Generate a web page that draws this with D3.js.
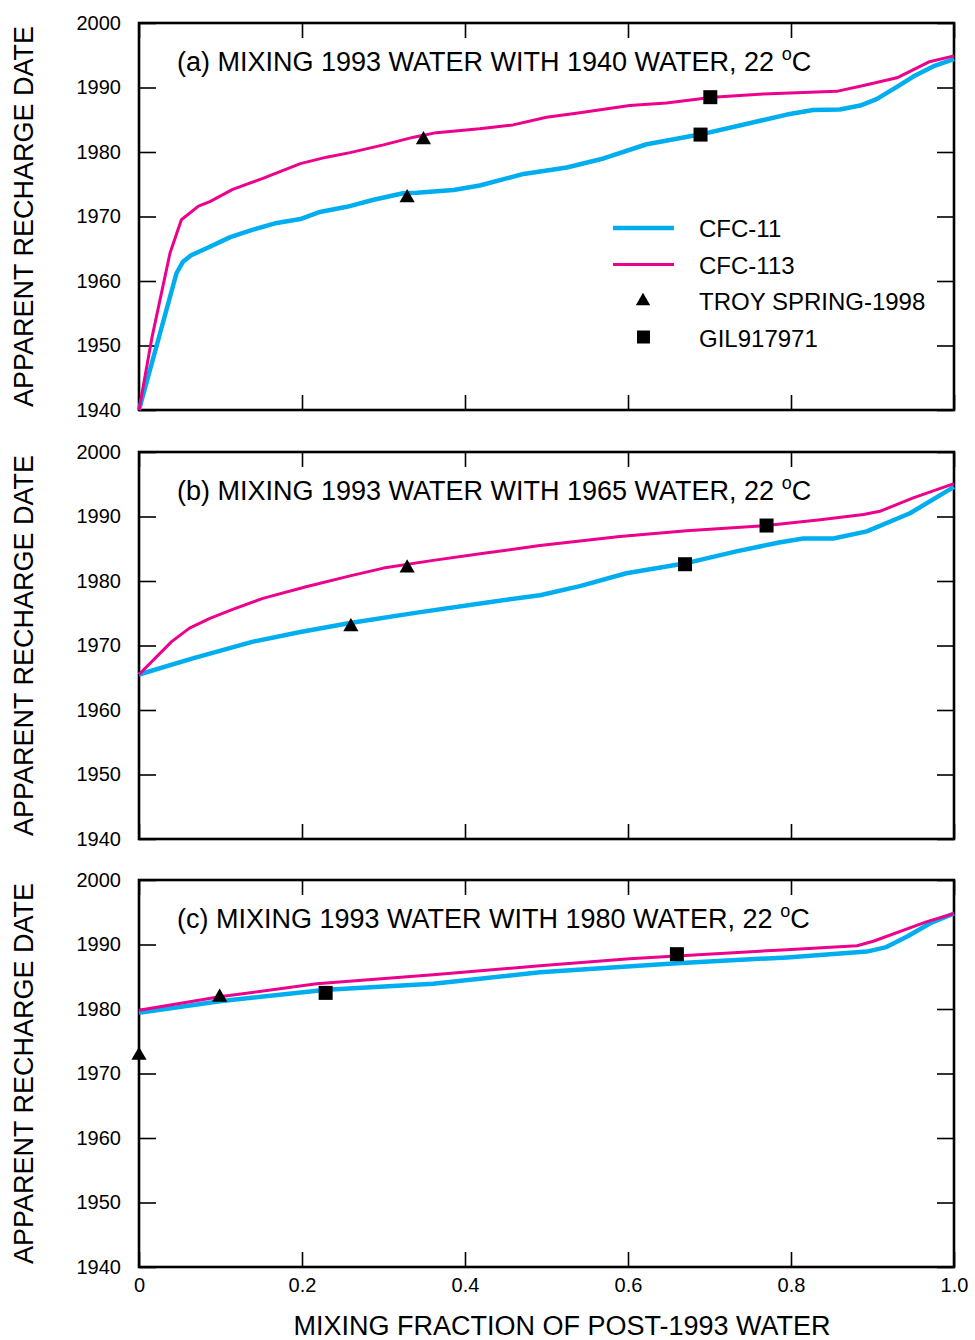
<!DOCTYPE html>
<html>
<head>
<meta charset="utf-8">
<script src="https://cdn.jsdelivr.net/npm/d3@7"></script>
<style>
  body { margin: 0; background: #fff; }
  svg text { font-family: "Liberation Sans", Arial, Helvetica, sans-serif; fill: #000; }
</style>
</head>
<body>
<svg id="chart" width="975" height="1340"></svg>
<script>
// ---- data: [mixing fraction, apparent recharge date] ----
const cfc11A = [[0,1940],[0.046,1961.2],[0.054,1963.0],[0.064,1964.0],[0.087,1965.3],[0.112,1966.8],
  [0.138,1967.9],[0.169,1969.0],[0.198,1969.6],[0.222,1970.7],[0.255,1971.5],[0.288,1972.6],
  [0.324,1973.6],[0.341,1973.7],[0.386,1974.1],[0.418,1974.8],[0.472,1976.6],[0.525,1977.6],
  [0.570,1979.0],[0.623,1981.2],[0.688,1982.7],[0.737,1984.1],[0.795,1985.8],[0.827,1986.5],
  [0.860,1986.6],[0.885,1987.2],[0.905,1988.2],[0.930,1990.1],[0.950,1991.7],[0.975,1993.3],[1.0,1994.4]];
const cfc113A = [[0,1940],[0.016,1951.3],[0.038,1964.3],[0.052,1969.5],[0.073,1971.6],[0.087,1972.3],
  [0.115,1974.2],[0.152,1975.9],[0.198,1978.2],[0.230,1979.2],[0.259,1979.9],[0.300,1981.1],
  [0.337,1982.3],[0.365,1983.0],[0.418,1983.6],[0.459,1984.2],[0.500,1985.4],[0.541,1986.1],
  [0.602,1987.2],[0.647,1987.6],[0.704,1988.5],[0.766,1989.0],[0.807,1989.2],[0.856,1989.4],
  [0.889,1990.3],[0.930,1991.5],[0.970,1994.0],[1.0,1994.9]];
const cfc11B = [[0,1965.5],[0.066,1968.0],[0.140,1970.6],[0.198,1972.1],[0.259,1973.5],[0.341,1975.1],
  [0.423,1976.6],[0.492,1977.8],[0.541,1979.2],[0.598,1981.2],[0.669,1982.7],[0.733,1984.6],
  [0.787,1986.0],[0.815,1986.6],[0.852,1986.6],[0.893,1987.7],[0.946,1990.5],[1.0,1994.6]];
const cfc113B = [[0,1965.5],[0.040,1970.6],[0.062,1972.7],[0.087,1974.2],[0.115,1975.6],[0.152,1977.3],
  [0.205,1979.1],[0.259,1980.8],[0.300,1982.0],[0.361,1983.2],[0.423,1984.3],[0.492,1985.5],
  [0.590,1986.9],[0.672,1987.8],[0.770,1988.6],[0.836,1989.5],[0.889,1990.3],[0.909,1990.8],
  [0.950,1992.9],[1.0,1995.1]];
const cfc11C = [[0,1979.4],[0.099,1981.2],[0.230,1983.0],[0.361,1983.9],[0.492,1985.7],[0.660,1987.1],
  [0.795,1988.0],[0.893,1988.9],[0.917,1989.6],[0.942,1991.2],[0.971,1993.3],[1.0,1994.8]];
const cfc113C = [[0,1979.8],[0.099,1981.9],[0.218,1983.9],[0.361,1985.3],[0.492,1986.7],[0.602,1987.8],
  [0.660,1988.2],[0.795,1989.2],[0.881,1989.8],[0.901,1990.5],[0.966,1993.5],[1.0,1994.8]];

// sample points
const troyA = [[0.329,1972.9],[0.349,1981.9]];
const gilA  = [[0.689,1982.7],[0.701,1988.5]];
const troyB = [[0.260,1972.9],[0.329,1982.0]];
const gilB  = [[0.670,1982.6],[0.770,1988.6]];
const troyC = [[0,1972.8],[0.099,1981.8]];
const gilC  = [[0.229,1982.5],[0.660,1988.5]];

const panelLabels = ["(a) MIXING 1993 WATER WITH 1940 WATER, 22 ",
                     "(b) MIXING 1993 WATER WITH 1965 WATER, 22 ",
                     "(c) MIXING 1993 WATER WITH 1980 WATER, 22 "];
const yTicks = [1940, 1950, 1960, 1970, 1980, 1990, 2000];
const xTicks = [0, 0.2, 0.4, 0.6, 0.8, 1.0];
const legendNames = ["CFC-11", "CFC-113", "TROY SPRING-1998", "GIL917971"];

const panels = [
  { label: panelLabels[0], cfc11: cfc11A, cfc113: cfc113A, troy: troyA, gil: gilA },
  { label: panelLabels[1], cfc11: cfc11B, cfc113: cfc113B, troy: troyB, gil: gilB },
  { label: panelLabels[2], cfc11: cfc11C, cfc113: cfc113C, troy: troyC, gil: gilC }
];

// ---- layout ----
const left = 139, plotW = 815, plotH = 387;
const tops = [23, 452, 880];
const blue = "#00aeef", magenta = "#ec008c";

const svg = d3.select("#chart");
const x = d3.scaleLinear().domain([0, 1]).range([0, plotW]);

panels.forEach((p, i) => {
  const y = d3.scaleLinear().domain([1940, 2000]).range([plotH, 0]);
  const g = svg.append("g").attr("transform", `translate(${left},${tops[i]})`);

  // axes with inward ticks
  const yLeft = g.append("g")
    .call(d3.axisLeft(y).tickValues(yTicks).tickSize(-17).tickSizeOuter(0).tickPadding(18)
      .tickFormat(d3.format("d")));
  yLeft.selectAll("text").style("font-size", "20px");
  g.append("g").attr("transform", `translate(${plotW},0)`)
    .call(d3.axisRight(y).tickValues(yTicks).tickSize(-17).tickSizeOuter(0).tickFormat(""));
  g.append("g")
    .call(d3.axisTop(x).tickValues(xTicks).tickSize(-15).tickSizeOuter(0).tickFormat(""));
  const xb = g.append("g").attr("transform", `translate(0,${plotH})`)
    .call(d3.axisBottom(x).tickValues(xTicks).tickSize(-15).tickSizeOuter(0).tickPadding(11)
      .tickFormat(i === 2 ? (d => d === 0 ? "0" : d3.format(".1f")(d)) : ""));
  xb.selectAll("text").style("font-size", "20px");
  g.selectAll(".domain").remove();
  g.selectAll(".tick line").attr("stroke", "#000").attr("stroke-width", 1.6);

  // frame
  g.append("rect").attr("width", plotW).attr("height", plotH)
    .attr("fill", "none").attr("stroke", "#000").attr("stroke-width", 2.6);

  // curves
  const line = d3.line().x(d => x(d[0])).y(d => y(d[1]));
  g.append("path").datum(p.cfc11).attr("d", line)
    .attr("fill", "none").attr("stroke", blue).attr("stroke-width", 4.5).attr("stroke-linejoin", "round");
  g.append("path").datum(p.cfc113).attr("d", line)
    .attr("fill", "none").attr("stroke", magenta).attr("stroke-width", 3).attr("stroke-linejoin", "round");

  // markers
  g.selectAll(".troy").data(p.troy).enter().append("path")
    .attr("d", d3.symbol(d3.symbolTriangle, 100))
    .attr("transform", d => `translate(${x(d[0])},${y(d[1])})`)
    .attr("fill", "#000");
  g.selectAll(".gil").data(p.gil).enter().append("rect")
    .attr("x", d => x(d[0]) - 7).attr("y", d => y(d[1]) - 7)
    .attr("width", 14).attr("height", 14).attr("fill", "#000");

  // panel title with raised degree sign
  const t = g.append("text").attr("x", 38).attr("y", 48).style("font-size", "27px");
  t.append("tspan").text(p.label);
  t.append("tspan").attr("dy", -11).style("font-size", "18px").text("o");
  t.append("tspan").attr("dy", 11).text("C");

  // y-axis title
  svg.append("text")
    .attr("transform", `translate(33,${tops[i] + plotH / 2}) rotate(-90)`)
    .attr("text-anchor", "middle").style("font-size", "27px")
    .text("APPARENT RECHARGE DATE");

  // legend (panel a only)
  if (i === 0) {
    const lg = g.append("g").attr("transform", "translate(474,205)");
    legendNames.forEach((name, k) => {
      const cy = k * 36.5;
      if (k === 0 || k === 1) {
        lg.append("line").attr("x1", 0).attr("x2", 61).attr("y1", cy).attr("y2", cy)
          .attr("stroke", k === 0 ? blue : magenta).attr("stroke-width", k === 0 ? 4.5 : 3);
      } else if (k === 2) {
        lg.append("path").attr("d", d3.symbol(d3.symbolTriangle, 90))
          .attr("transform", `translate(30,${cy})`).attr("fill", "#000");
      } else {
        lg.append("rect").attr("x", 24).attr("y", cy - 7).attr("width", 13).attr("height", 13)
          .attr("fill", "#000");
      }
      lg.append("text").attr("x", 86).attr("y", cy + 9).style("font-size", "24px").text(name);
    });
  }
});

// x-axis title
svg.append("text").attr("x", 562).attr("y", 1335)
  .attr("text-anchor", "middle").style("font-size", "27px")
  .text("MIXING FRACTION OF POST-1993 WATER");
</script>
</body>
</html>
